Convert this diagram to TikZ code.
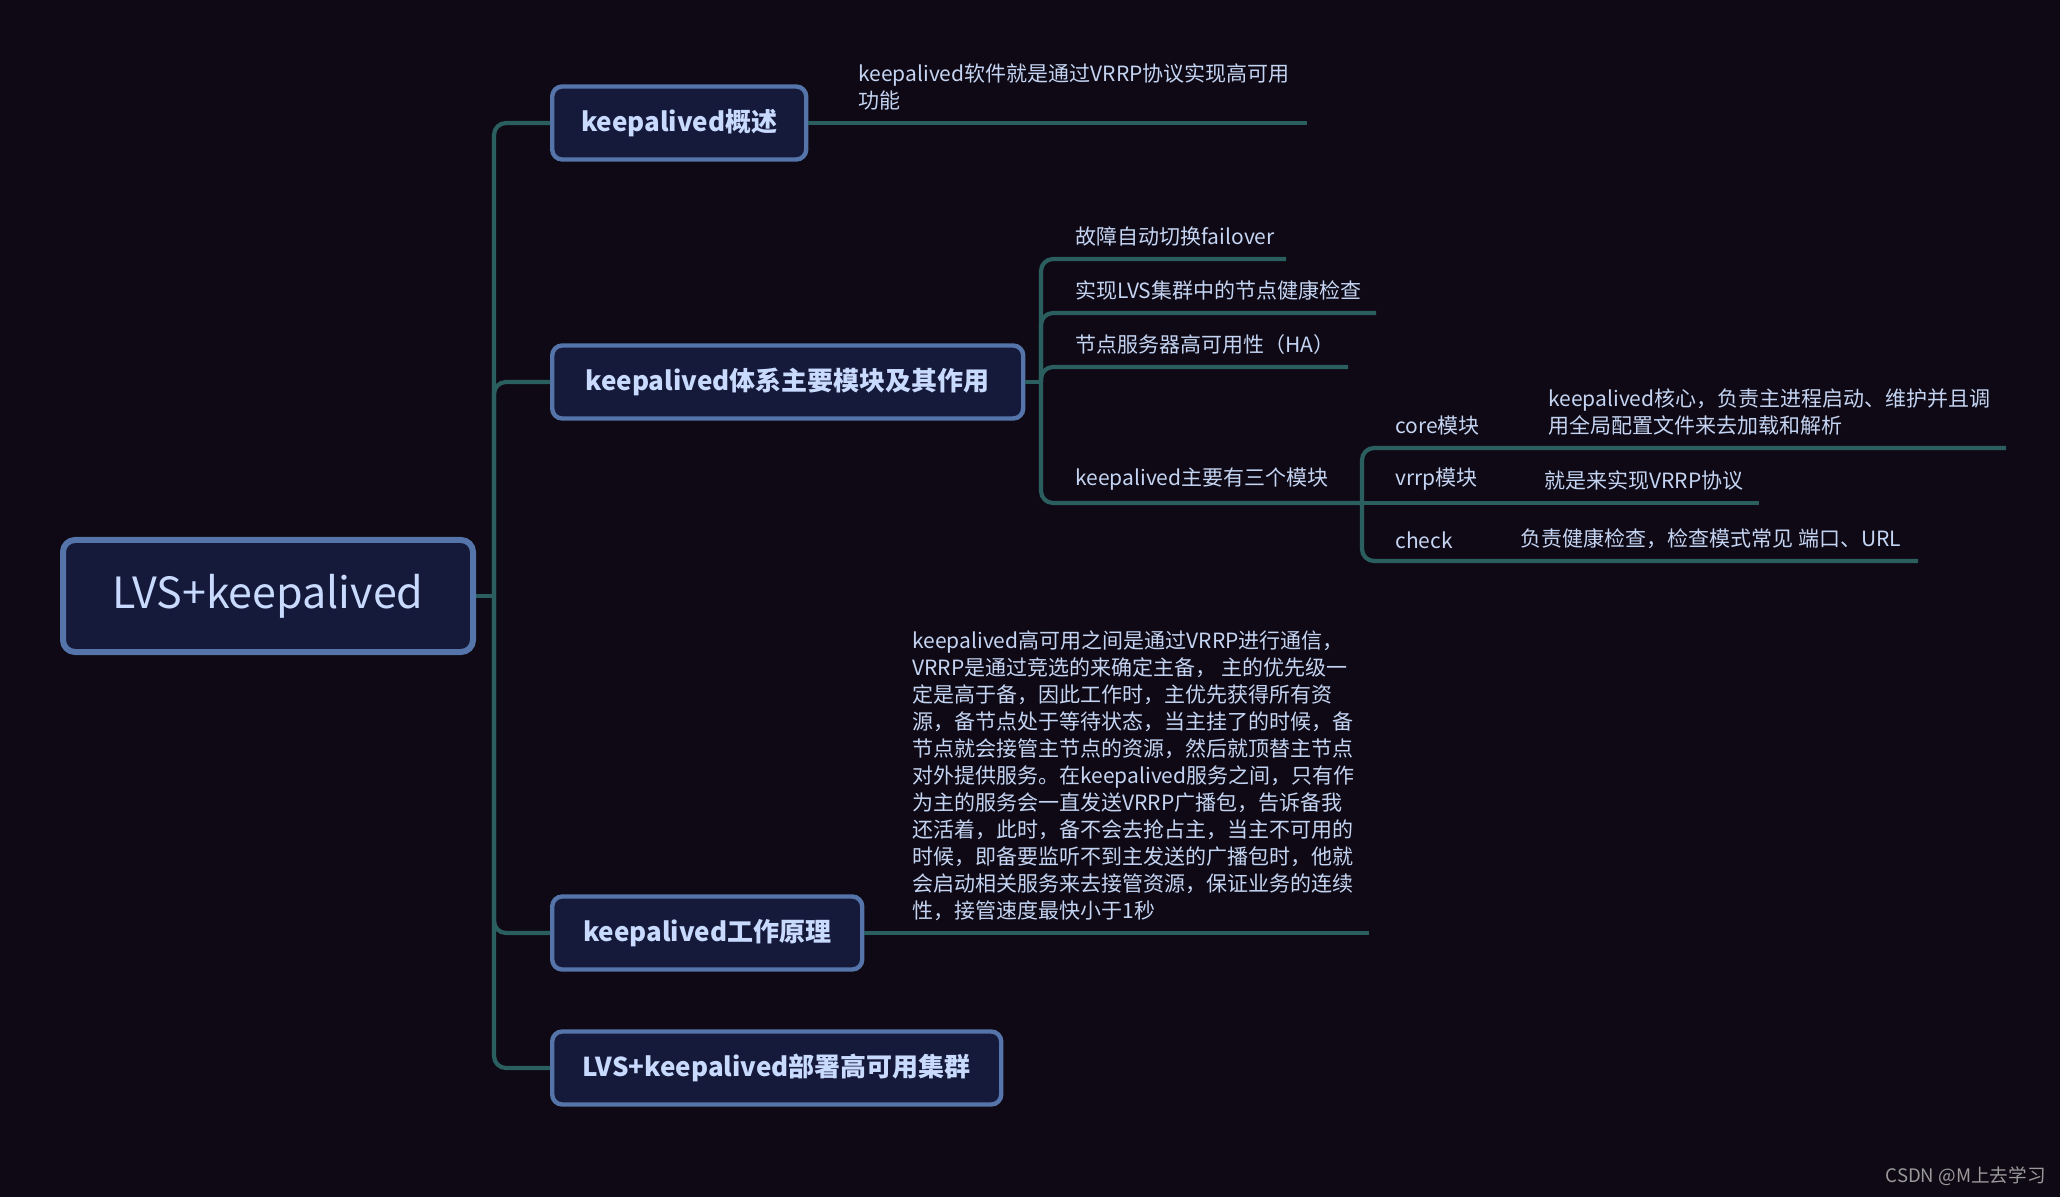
\documentclass[tikz,border=0pt]{standalone}
\usepackage{fontspec}
\setmainfont{Noto Sans CJK SC}
\definecolor{bg}{HTML}{0E0914}
\definecolor{boxfill}{HTML}{161A3A}
\definecolor{boxline}{HTML}{5474AA}
\definecolor{linkc}{HTML}{2B5E5E}
\definecolor{txt}{HTML}{C4D4F2}
\definecolor{ttl}{HTML}{C9DAFF}
\definecolor{wm}{HTML}{9A9A9A}
\begin{document}
\begin{tikzpicture}[x=0.5pt,y=-0.5pt,
  topic/.style={draw=boxline, line width=2.2pt, fill=boxfill, rounded corners=5pt, text=ttl,
    font=\fontsize{13}{15}\selectfont\bfseries, minimum height=36.5pt, inner xsep=0pt, anchor=west},
  rootbox/.style={draw=boxline, line width=3pt, fill=boxfill, rounded corners=6pt, text=ttl,
    font=\fontsize{21.5}{25}\selectfont, minimum width=205pt, minimum height=56pt},
  link/.style={draw=linkc, line width=2.1pt, rounded corners=6pt},
  leaf/.style={text=txt, font=\fontsize{10.5}{13.5}\selectfont, anchor=south west, inner sep=0pt, align=left}]
\fill[bg] (0,0) rectangle (2060,1197);
\useasboundingbox (0,0) rectangle (2060,1197);

% nodes
\node[rootbox] (root) at (268,596) {LVS+keepalived};
\node[topic, minimum width=127pt] (b1) at (550,123) {keepalived概述};
\node[topic, minimum width=235.5pt] (b2) at (550,382) {keepalived体系主要模块及其作用};
\node[topic, minimum width=155pt] (b3) at (550,933) {keepalived工作原理};
\node[topic, minimum width=224.5pt] (b4) at (550,1068) {LVS+keepalived部署高可用集群};

\node[leaf] (t1) at (858,111) {keepalived软件就是通过VRRP协议实现高可用\\功能};
\node[leaf] (t21) at (1075,247) {故障自动切换failover};
\node[leaf] (t22) at (1075,301) {实现LVS集群中的节点健康检查};
\node[leaf] (t23) at (1075,355) {节点服务器高可用性（HA）};
\node[leaf] (t24) at (1075,491) {keepalived主要有三个模块};
\node[leaf] (tc) at (1395,436) {core模块};
\node[leaf] (tcd) at (1548,436) {keepalived核心，负责主进程启动、维护并且调\\用全局配置文件来去加载和解析};
\node[leaf] (tv) at (1395,491) {vrrp模块};
\node[leaf] (tvd) at (1544,491) {就是来实现VRRP协议};
\node[leaf] (tk) at (1395,549) {check};
\node[leaf] (tkd) at (1520,549) {负责健康检查，检查模式常见 端口、URL};
\node[leaf] (t3) at (912,921) {keepalived高可用之间是通过VRRP进行通信，\\
VRRP是通过竞选的来确定主备， 主的优先级一\\
定是高于备，因此工作时，主优先获得所有资\\
源，备节点处于等待状态，当主挂了的时候，备\\
节点就会接管主节点的资源，然后就顶替主节点\\
对外提供服务。在keepalived服务之间，只有作\\
为主的服务会一直发送VRRP广播包，告诉备我\\
还活着，此时，备不会去抢占主，当主不可用的\\
时候，即备要监听不到主发送的广播包时，他就\\
会启动相关服务来去接管资源，保证业务的连续\\
性，接管速度最快小于1秒};

\node[text=wm, font=\fontsize{9.3}{11}\selectfont, anchor=south east, inner sep=0pt] (wmk) at (2046,1186) {CSDN @M上去学习};

% coordinates
\path (root.east) ++(18,0) coordinate (tr);
\coordinate (e1) at (1307,123);
\coordinate (s2) at (1041,382);
\coordinate (e21) at (1286,259);
\coordinate (e22) at (1376,313);
\coordinate (e23) at (1348,367);
\coordinate (s3) at (1362,503);
\coordinate (ec) at (2006,448);
\coordinate (ev) at (1759,503);
\coordinate (ek) at (1918,561);
\coordinate (e3) at (1369,933);

% links
\draw[link] (root.east) -- (tr);
\draw[link] (tr) |- (b1.west);
\draw[link] (tr) |- (b2.west);
\draw[link] (tr) |- (b3.west);
\draw[link] (tr) |- (b4.west);
\draw[link] (b1.east) -- (e1);
\draw[link] (b2.east) -- (s2);
\draw[link] (s2) |- (e21);
\draw[link] (s2) |- (e22);
\draw[link] (s2) |- (e23);
\draw[link] (s2) |- (s3);
\draw[link] (s3) |- (ec);
\draw[link] (s3) -- (ev);
\draw[link] (s3) |- (ek);
\draw[link] (b3.east) -- (e3);
\end{tikzpicture}
\end{document}
